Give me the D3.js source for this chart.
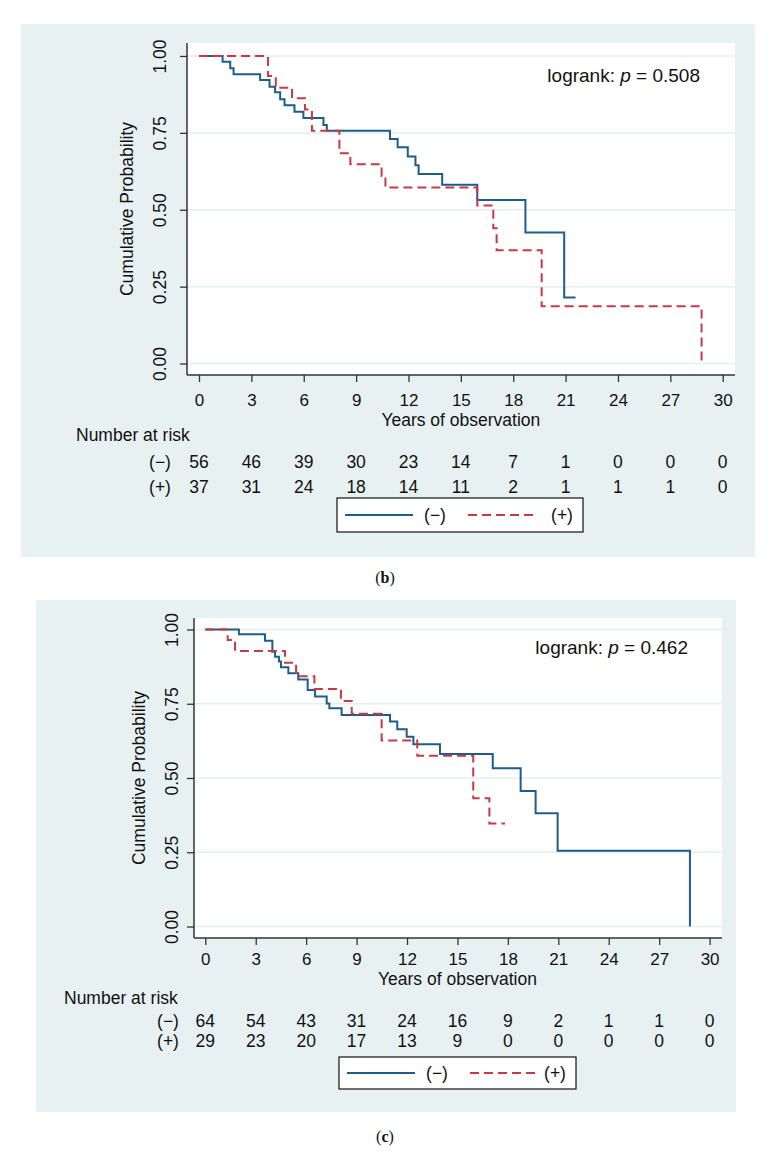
<!DOCTYPE html>
<html>
<head>
<meta charset="utf-8">
<script src="https://cdn.jsdelivr.net/npm/d3@7"></script>
<style>
  body { margin: 0; background: #fff; }
  svg { display: block; }
  text { font-family: "Liberation Sans", Arial, sans-serif; fill: #111; }
</style>
</head>
<body>
<svg width="771" height="1155"></svg>
<script>
// x ticks (years) and y ticks
const years = [0, 3, 6, 9, 12, 15, 18, 21, 24, 27, 30];
const probTicks = [0, 0.25, 0.5, 0.75, 1];

// panel (b): Kaplan-Meier steps
const bNegTime = [0, 1.35, 1.79, 1.98, 3.5, 4.04, 4.36, 4.65, 4.9, 5.47, 5.98, 7.13, 7.32, 10.94, 11.38, 11.96, 12.4, 12.58, 13.93, 15.94, 18.7, 20.92, 21.57];
const bNegSurv = [1, 0.981, 0.96, 0.941, 0.922, 0.9, 0.882, 0.859, 0.84, 0.819, 0.798, 0.776, 0.757, 0.73, 0.703, 0.673, 0.645, 0.616, 0.581, 0.532, 0.426, 0.215, 0.215];
const bPosTime = [0, 3.95, 4.4, 5.33, 6.07, 6.47, 8.04, 8.67, 10.46, 10.68, 15.94, 16.86, 17.05, 19.63, 28.79];
const bPosSurv = [1, 0.935, 0.897, 0.863, 0.826, 0.757, 0.684, 0.648, 0.61, 0.572, 0.514, 0.44, 0.368, 0.186, 0];
const bRiskNeg = [56, 46, 39, 30, 23, 14, 7, 1, 0, 0, 0];
const bRiskPos = [37, 31, 24, 18, 14, 11, 2, 1, 1, 1, 0];
const bLogrank = "0.508";

// panel (c)
const cNegTime = [0, 2.0, 3.55, 3.99, 4.15, 4.38, 4.5, 4.94, 5.53, 6.09, 6.53, 7.22, 7.38, 8.11, 10.99, 11.42, 11.98, 12.38, 13.96, 17.1, 18.76, 19.65, 20.96, 28.83];
const cNegSurv = [1, 0.984, 0.962, 0.925, 0.908, 0.892, 0.873, 0.853, 0.832, 0.796, 0.774, 0.751, 0.735, 0.712, 0.69, 0.664, 0.639, 0.614, 0.581, 0.533, 0.456, 0.381, 0.255, 0];
const cPosTime = [0, 1.33, 1.77, 4.74, 5.4, 6.49, 8.07, 8.71, 10.49, 12.61, 15.94, 16.9, 17.83];
const cPosSurv = [1, 0.965, 0.928, 0.888, 0.843, 0.8, 0.759, 0.716, 0.626, 0.575, 0.432, 0.347, 0.347];
const cRiskNeg = [64, 54, 43, 31, 24, 16, 9, 2, 1, 1, 0];
const cRiskPos = [29, 23, 20, 17, 13, 9, 0, 0, 0, 0, 0];
const cLogrank = "0.462";

const BLUE = "#1f5c8a", RED = "#c53a44";
const svg = d3.select("svg");

function drawPanel(p) {
  const g = svg.append("g");

  g.append("rect")
    .attr("x", p.bg[0]).attr("y", p.bg[1])
    .attr("width", p.bg[2] - p.bg[0]).attr("height", p.bg[3] - p.bg[1])
    .attr("fill", "#e7f1f2");

  g.append("rect")
    .attr("x", p.left).attr("y", p.top)
    .attr("width", p.right - p.left).attr("height", p.bottom - p.top)
    .attr("fill", "#fff");

  const x = d3.scaleLinear().domain([0, 30]).range([p.x0, p.x30]);
  const y = d3.scaleLinear().domain([0, 1]).range([p.y0, p.y1]);

  // gridlines
  g.append("g").selectAll("line")
    .data(probTicks)
    .enter()
    .append("line")
    .attr("x1", p.left).attr("x2", p.right)
    .attr("y1", (d) => y(d)).attr("y2", (d) => y(d))
    .attr("stroke", "#e3eef0")
    .attr("stroke-width", 1.5);

  // y axis
  const yAxis = g.append("g")
    .attr("transform", `translate(${p.left},0)`)
    .call(d3.axisLeft(y).tickValues(probTicks).tickSize(7).tickSizeOuter(0).tickFormat(d3.format(".2f")));
  yAxis.select(".domain").remove();
  yAxis.selectAll(".tick line").attr("stroke", "#333").attr("stroke-width", 1.3);
  yAxis.selectAll(".tick text")
    .attr("x", null).attr("dy", "0.35em")
    .attr("transform", `translate(${p.ylabX - p.left},0) rotate(-90)`)
    .attr("text-anchor", "middle")
    .style("font-size", "17.5px")
    .style("font-family", null);

  // x axis
  const xAxis = g.append("g")
    .attr("transform", `translate(0,${p.bottom})`)
    .call(d3.axisBottom(x).tickValues(years).tickSize(7).tickSizeOuter(0));
  xAxis.select(".domain").remove();
  xAxis.selectAll(".tick line").attr("stroke", "#333").attr("stroke-width", 1.3);
  xAxis.selectAll(".tick text")
    .attr("y", p.xlabY - p.bottom).attr("dy", "0.35em")
    .style("font-size", "17px")
    .style("font-family", null);

  // axis lines
  g.append("line")
    .attr("x1", p.left).attr("x2", p.left)
    .attr("y1", p.top).attr("y2", p.bottom)
    .attr("stroke", "#333").attr("stroke-width", 1.5);
  g.append("line")
    .attr("x1", p.left).attr("x2", p.right)
    .attr("y1", p.bottom).attr("y2", p.bottom)
    .attr("stroke", "#333").attr("stroke-width", 1.5);

  // titles
  g.append("text")
    .attr("transform", `translate(${p.ytitleX},${(p.top + p.bottom) / 2}) rotate(-90)`)
    .attr("dy", "0.35em")
    .attr("text-anchor", "middle")
    .style("font-size", "17.5px")
    .text("Cumulative Probability");
  g.append("text")
    .attr("x", (p.x0 + p.x30) / 2).attr("y", p.xtitleY)
    .attr("dy", "0.35em")
    .attr("text-anchor", "middle")
    .style("font-size", "17.5px")
    .text("Years of observation");

  // survival curves
  const line = d3.line()
    .x((d) => x(d[0]))
    .y((d) => y(d[1]))
    .curve(d3.curveStepAfter);

  g.append("path")
    .datum(d3.zip(p.negT, p.negS))
    .attr("d", line)
    .attr("fill", "none")
    .attr("stroke", BLUE)
    .attr("stroke-width", 2);

  g.append("path")
    .datum(d3.zip(p.posT, p.posS))
    .attr("d", line)
    .attr("fill", "none")
    .attr("stroke", RED)
    .attr("stroke-width", 2)
    .attr("stroke-dasharray", "9,5");

  // logrank note
  const lr = g.append("text")
    .attr("x", p.lrX).attr("y", p.lrY)
    .attr("dy", "0.35em")
    .attr("text-anchor", "end")
    .style("font-size", "19px");
  lr.append("tspan").text("logrank: ");
  lr.append("tspan").style("font-style", "italic").text("p");
  lr.append("tspan").text(" = " + p.lr);

  // number at risk
  g.append("text")
    .attr("x", p.narX).attr("y", p.narY)
    .attr("dy", "0.35em")
    .style("font-size", "17.5px")
    .text("Number at risk");

  const rows = [
    { label: "(\u2212)", vals: p.riskNeg, y: p.rowY[0] },
    { label: "(+)", vals: p.riskPos, y: p.rowY[1] }
  ];
  rows.forEach((r) => {
    g.append("text")
      .attr("x", p.rowLabX).attr("y", r.y)
      .attr("dy", "0.35em")
      .attr("text-anchor", "middle")
      .style("font-size", "17.5px")
      .text(r.label);
    g.append("g").selectAll("text")
      .data(r.vals)
      .enter()
      .append("text")
      .attr("x", (d, i) => x(years[i]))
      .attr("y", r.y)
      .attr("dy", "0.35em")
      .attr("text-anchor", "middle")
      .style("font-size", "17.5px")
      .text((d) => d);
  });

  // legend
  const L = p.legend;
  const cy = (L.y0 + L.y1) / 2;
  g.append("rect")
    .attr("x", L.x0).attr("y", L.y0)
    .attr("width", L.x1 - L.x0).attr("height", L.y1 - L.y0)
    .attr("fill", "#fff").attr("stroke", "#111").attr("stroke-width", 1.2);
  g.append("line")
    .attr("x1", L.x0 + 8).attr("x2", L.x0 + 76)
    .attr("y1", cy).attr("y2", cy)
    .attr("stroke", BLUE).attr("stroke-width", 2);
  g.append("text")
    .attr("x", L.x0 + 98).attr("y", cy).attr("dy", "0.35em")
    .attr("text-anchor", "middle").style("font-size", "17.5px")
    .text("(\u2212)");
  g.append("line")
    .attr("x1", L.x0 + 131).attr("x2", L.x0 + 199)
    .attr("y1", cy).attr("y2", cy)
    .attr("stroke", RED).attr("stroke-width", 2)
    .attr("stroke-dasharray", "9,5");
  g.append("text")
    .attr("x", L.x1 - 21).attr("y", cy).attr("dy", "0.35em")
    .attr("text-anchor", "middle").style("font-size", "17.5px")
    .text("(+)");

  // panel caption
  const cap = svg.append("text")
    .attr("x", 385).attr("y", p.capY)
    .attr("dy", "0.35em")
    .attr("text-anchor", "middle")
    .style("font-family", "'Liberation Serif', 'DejaVu Serif', serif")
    .style("font-size", "16px");
  cap.append("tspan").text("(");
  cap.append("tspan").style("font-weight", "bold").text(p.cap);
  cap.append("tspan").text(")");
}

drawPanel({
  bg: [21, 24, 755, 557],
  left: 187, right: 735, top: 43, bottom: 375,
  x0: 199, x30: 722.7, y0: 363.5, y1: 56,
  ylabX: 160, ytitleX: 127, xlabY: 400, xtitleY: 420,
  negT: bNegTime, negS: bNegSurv, posT: bPosTime, posS: bPosSurv,
  lr: bLogrank, lrX: 700, lrY: 75,
  narX: 76, narY: 435, rowLabX: 160, rowY: [462, 487],
  riskNeg: bRiskNeg, riskPos: bRiskPos,
  legend: { x0: 337, x1: 583, y0: 498, y1: 532 },
  cap: "b", capY: 577
});

drawPanel({
  bg: [36, 600, 736, 1112],
  left: 194, right: 722, top: 618, bottom: 938,
  x0: 205.3, x30: 709.6, y0: 926.5, y1: 629.5,
  ylabX: 172, ytitleX: 139, xlabY: 959, xtitleY: 979,
  negT: cNegTime, negS: cNegSurv, posT: cPosTime, posS: cPosSurv,
  lr: cLogrank, lrX: 688, lrY: 647,
  narX: 64, narY: 998, rowLabX: 168, rowY: [1021, 1041],
  riskNeg: cRiskNeg, riskPos: cRiskPos,
  legend: { x0: 339, x1: 576, y0: 1057, y1: 1089 },
  cap: "c", capY: 1136
});
</script>
</body>
</html>
